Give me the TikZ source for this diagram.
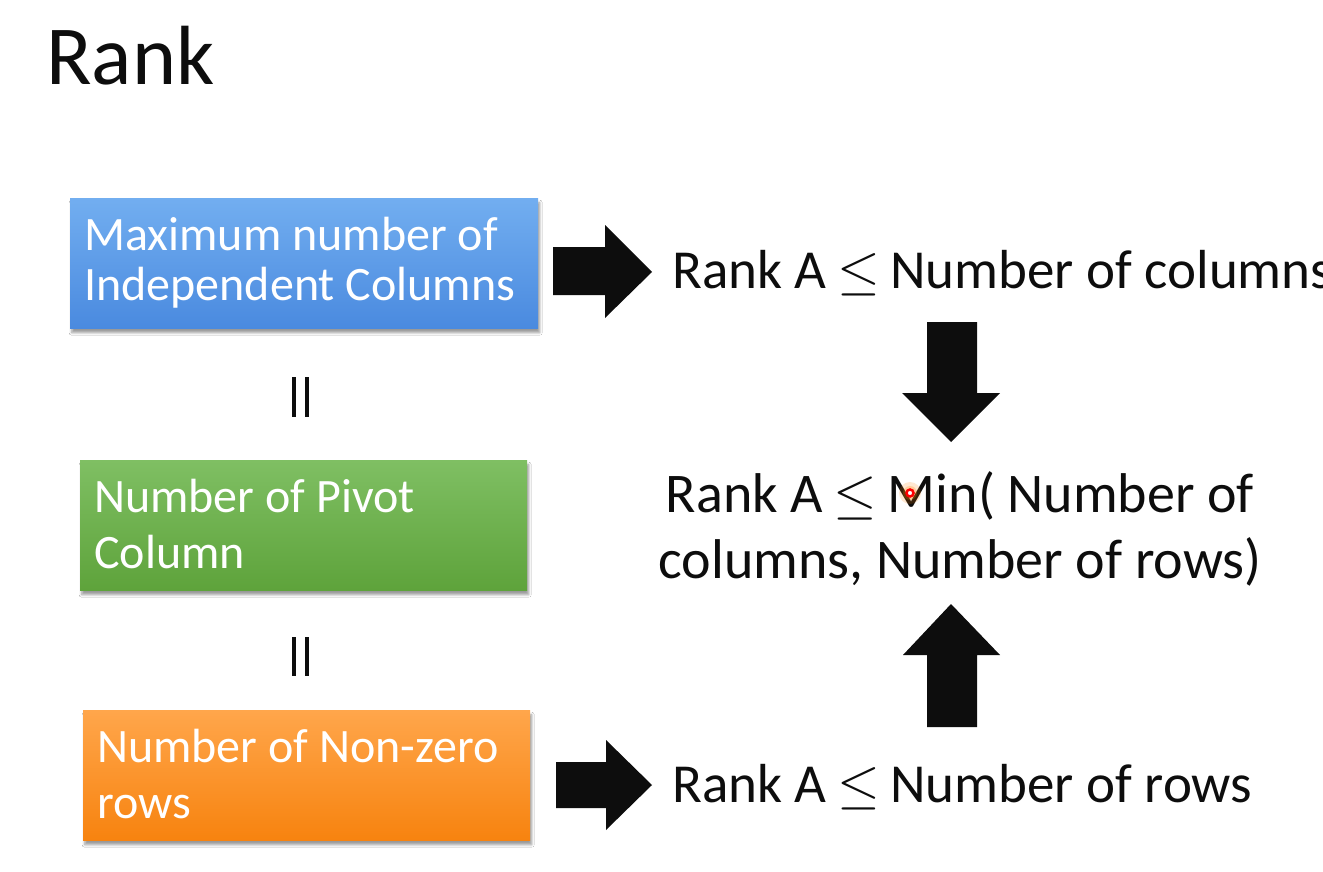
\RequirePackage{fix-cm}
\documentclass[tikz,border=0pt]{standalone}
\usepackage{fontspec}
\setmainfont{Carlito}
\usetikzlibrary{shadows.blur}
\definecolor{bluetop}{HTML}{72AEF0}
\definecolor{bluebot}{HTML}{4A8ADF}
\definecolor{greentop}{HTML}{7FBF63}
\definecolor{greenbot}{HTML}{5EA33B}
\definecolor{orangetop}{HTML}{FFA64B}
\definecolor{orangebot}{HTML}{F7830F}
\definecolor{ink}{HTML}{0D0D0D}
\newcommand\myleq{\hspace{-2pt}$\leq$\hspace{-2pt}}
\tikzset{
  box/.style={rectangle, inner sep=0pt, anchor=north west,
    blur shadow={shadow xshift=1.5pt, shadow yshift=-4.5pt, shadow opacity=40, shadow blur radius=2.5pt}},
  bluebox/.style={box, top color=bluetop, bottom color=bluebot},
  greenbox/.style={box, top color=greentop, bottom color=greenbot},
  orangebox/.style={box, top color=orangetop, bottom color=orangebot},
  boxtxt/.style={inner sep=0pt, anchor=base west, align=left, text=white},
  rtxt/.style={inner sep=0pt, text=ink, font=\fontsize{55}{66}\selectfont},
  blockarrow/.style={fill=ink},
  eqbar/.style={fill=ink}
}
\begin{document}
\begin{tikzpicture}[x=1pt,y=-1pt]
\useasboundingbox (0,0) rectangle (1323,872);
\clip (0,0) rectangle (1323,872);
\fill[white] (0,0) rectangle (1323,872);

\node[anchor=base west, inner sep=0pt, text=ink, font=\fontsize{84}{98}\selectfont] (title) at (46,85) {Rank};

% boxes
\node[bluebox, minimum width=468pt, minimum height=130pt] (b1) at (70,198) {};
\node[greenbox, minimum width=447pt, minimum height=130pt] (b2) at (80,460) {};
\node[orangebox, minimum width=447pt, minimum height=130pt] (b3) at (83,710) {};

% box texts (anchor = baseline of last line)
\node[boxtxt, font=\fontsize{48}{50}\selectfont] (t1) at (84,300) {Maximum number of\\Independent Columns};
\node[boxtxt, font=\fontsize{48}{56}\selectfont] (t2) at (94,568) {Number of Pivot\\Column};
\node[boxtxt, font=\fontsize{48}{56}\selectfont] (t3) at (97,818) {Number of Non-zero\\rows};

% equal signs
\fill[eqbar] (292,377) rectangle (296,417);
\fill[eqbar] (305,377) rectangle (309,417);
\fill[eqbar] (292,637) rectangle (296,676);
\fill[eqbar] (305,637) rectangle (309,676);

% right texts
\node[rtxt, anchor=base west] (r1) at (672,288) {Rank A \myleq{} Number of columns};
\node[rtxt, anchor=base, align=center, font=\fontsize{56}{66}\selectfont] (r2) at (960,578) {Rank A \myleq{} Min( Number of\\columns, Number of rows)};
\node[rtxt, anchor=base west] (r3) at (672,802) {Rank A \myleq{} Number of rows};

% block arrows
\fill[blockarrow] (553,247) -- (605,247) -- (605,225) -- (652,272) -- (605,318) -- (605,295) -- (553,295) -- cycle;
\fill[blockarrow] (556,762) -- (606,762) -- (606,740) -- (652,785) -- (606,830) -- (606,808) -- (556,808) -- cycle;
\fill[blockarrow] (927,322) -- (977,322) -- (977,393) -- (1000,393) -- (951,442) -- (902,393) -- (927,393) -- cycle;
\fill[blockarrow] (927,727) -- (977,727) -- (977,655) -- (1000,655) -- (951,604) -- (903,655) -- (927,655) -- cycle;

% laser pointer dot
\fill[orange, opacity=0.18] (910,493) circle (11);
\fill[orange, opacity=0.25] (910,493) circle (7);
\draw[red, line width=2.5pt, fill=white] (910,493) circle (3.5);
\end{tikzpicture}
\end{document}
